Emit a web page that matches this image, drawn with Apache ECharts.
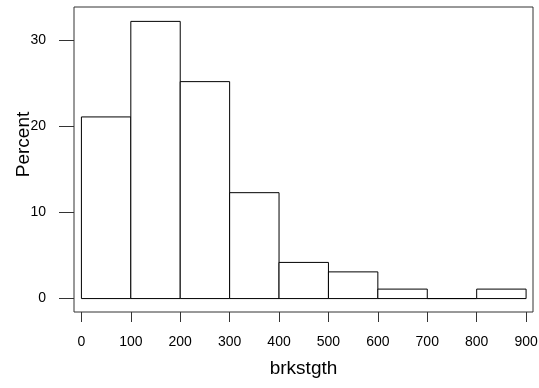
<!DOCTYPE html>
<html>
<head>
<meta charset="utf-8">
<style>
  html, body { margin: 0; padding: 0; background: #fff; }
  #chart { width: 539px; height: 388px; }
</style>
<script src="https://cdn.jsdelivr.net/npm/echarts@6/dist/echarts.min.js"></script>
</head>
<body>
<div id="chart"></div>
<script>
  // histogram bins (brkstgth) and their percent heights
  const binStarts = [0, 100, 200, 300, 400, 500, 600, 700, 800];
  const binEnds = [100, 200, 300, 400, 500, 600, 700, 800, 900];
  const percents = [21.1, 32.2, 25.2, 12.3, 4.2, 3.1, 1.1, 0, 1.1];
  const xTicks = [0, 100, 200, 300, 400, 500, 600, 700, 800, 900];
  const yTicks = [0, 10, 20, 30];

  const font = '"Liberation Sans", Arial, sans-serif';
  const chart = echarts.init(document.getElementById('chart'));

  const histData = binStarts.map((s, i) => [s, binEnds[i], percents[i]]);

  chart.setOption({
    animation: false,
    backgroundColor: '#fff',
    grid: {
      show: true,
      left: 74,
      top: 7,
      right: 6,
      bottom: 76,
      outerBoundsMode: 'none',
      containLabel: false,
      borderColor: '#333',
      borderWidth: 1,
      backgroundColor: 'transparent'
    },
    xAxis: {
      type: 'value',
      min: -15,
      max: 914,
      name: 'brkstgth',
      nameLocation: 'middle',
      nameGap: 47,
      nameMoveOverlap: false,
      nameTextStyle: { fontFamily: font, fontSize: 19, color: '#000' },
      axisLine: { show: false, onZero: false },
      axisTick: { show: true, length: 10, lineStyle: { color: '#333' }, customValues: xTicks },
      axisLabel: { fontFamily: font, fontSize: 14, color: '#000', margin: 23, customValues: xTicks },
      splitLine: { show: false }
    },
    yAxis: {
      type: 'value',
      min: -1.56,
      max: 33.87,
      name: 'Percent',
      nameLocation: 'middle',
      nameGap: 41,
      nameMoveOverlap: false,
      nameTextStyle: { fontFamily: font, fontSize: 19, color: '#000', padding: [0, 0, 0, 30] },
      axisLine: { show: false, onZero: false },
      axisTick: { show: true, length: 15, lineStyle: { color: '#333' }, customValues: yTicks },
      axisLabel: { fontFamily: font, fontSize: 14, color: '#000', margin: 28, padding: [8, 0, 0, 0], customValues: yTicks },
      splitLine: { show: false }
    },
    series: [{
      type: 'custom',
      data: histData,
      encode: { x: [0, 1], y: 2 },
      renderItem: function (params, api) {
        const p1 = api.coord([api.value(0), api.value(2)]);
        const p2 = api.coord([api.value(1), 0]);
        return {
          type: 'rect',
          shape: { x: p1[0], y: p1[1], width: p2[0] - p1[0], height: p2[1] - p1[1] },
          style: { fill: '#fff', stroke: '#000', lineWidth: 1 }
        };
      }
    }]
  });
</script>
</body>
</html>
